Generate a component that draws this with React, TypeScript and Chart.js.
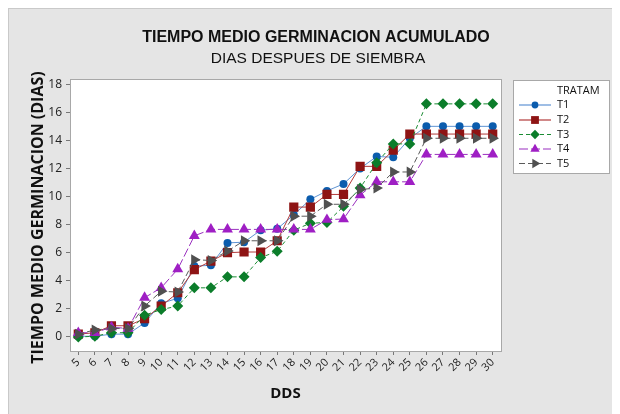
import React, { useEffect, useRef } from "react";
import { Chart, registerables } from "chart.js";

Chart.register(...registerables);

const days = ["5","6","7","8","9","10","11","12","13","14","15","16","17","18","19","20","21","22","23","24","25","26","27","28","29","30"];

const t1 = [0.05,0.05,0.2,0.2,1.0,2.4,2.75,5.05,5.1,6.7,6.75,7.6,7.7,8.7,9.8,10.4,10.9,12.0,12.85,12.8,14.15,15.0,15.0,15.0,15.0,15.0];
const t2 = [0.2,0.3,0.8,0.8,1.3,2.2,3.15,4.8,5.4,6.0,6.05,6.05,6.85,9.25,9.25,10.15,10.15,12.15,12.15,13.3,14.45,14.45,14.45,14.45,14.45,14.45];
const t3 = [0.0,0.05,0.3,0.3,1.55,1.95,2.2,3.5,3.5,4.28,4.28,5.65,6.1,7.6,8.1,8.15,9.3,10.6,12.4,13.75,13.75,16.6,16.6,16.6,16.6,16.6];
const t4 = [0.3,0.3,0.7,0.6,2.8,3.5,4.83,7.2,7.66,7.66,7.66,7.66,7.66,7.66,7.66,8.35,8.4,10.1,11.05,11.05,11.05,13.0,13.0,13.0,13.0,13.0];
const t5 = [0.2,0.5,0.6,0.6,2.2,3.25,3.2,5.5,5.45,6.12,6.85,6.85,6.85,8.6,8.6,9.45,9.45,10.5,10.6,11.75,11.75,14.15,14.15,14.15,14.15,14.15];

const yTicks = [0,2,4,6,8,10,12,14,16,18];

const seriesNames = ["T1","T2","T3","T4","T5"];
const lineColors = ["#5e93d3","#b23a3a","#1a8c33","#9a2fbf","#5a5a5a"];
const markColors = ["#0b5cad","#8e1414","#0b7d2a","#9f1fc4","#505050"];
const dashes = [[], [], [4,3], [9,3], [6,3]];
const pStyles = ["circle","rect","rectRot","triangle","triangle"];
const pRot = [0,0,0,0,90];
const pRad = [4,6.5,5.5,6.3,6.3];

const TITLE_FONT = "'Liberation Sans', Arial, sans-serif";
const UI_FONT = "'Open Sans', 'DejaVu Sans', sans-serif";

function drawMarker(ctx: any, style: string, rot: number, r: number, x: number, y: number, color: string) {
  ctx.save();
  ctx.fillStyle = color;
  ctx.translate(x, y);
  ctx.rotate((rot * Math.PI) / 180);
  ctx.beginPath();
  if (style === "circle") {
    ctx.arc(0, 0, r, 0, Math.PI * 2);
  } else if (style === "rect") {
    const s = r * Math.SQRT1_2;
    ctx.rect(-s, -s, 2 * s, 2 * s);
  } else if (style === "rectRot") {
    ctx.moveTo(0, -r);
    ctx.lineTo(r, 0);
    ctx.lineTo(0, r);
    ctx.lineTo(-r, 0);
    ctx.closePath();
  } else {
    ctx.moveTo(0, -r);
    ctx.lineTo(r * 0.866, r * 0.5);
    ctx.lineTo(-r * 0.866, r * 0.5);
    ctx.closePath();
  }
  ctx.fill();
  ctx.restore();
}

const decor = {
  id: "decor",
  beforeDraw(chart: any) {
    const { ctx, width, height, chartArea } = chart;
    ctx.save();
    ctx.fillStyle = "#e5e5e5";
    ctx.fillRect(0, 0, width, height);
    ctx.strokeStyle = "#c9c9c9";
    ctx.lineWidth = 1;
    ctx.strokeRect(0.5, 0.5, width - 1, height + 5);
    ctx.fillStyle = "#ffffff";
    ctx.fillRect(chartArea.left, chartArea.top, chartArea.right - chartArea.left, chartArea.bottom - chartArea.top);
    ctx.restore();
  },
  afterDraw(chart: any) {
    const { ctx, chartArea } = chart;
    ctx.save();
    ctx.strokeStyle = "#a8a8a8";
    ctx.lineWidth = 1;
    ctx.strokeRect(Math.round(chartArea.left) + 0.5, Math.round(chartArea.top) - 0.5, Math.round(chartArea.right - chartArea.left), Math.round(chartArea.bottom - chartArea.top) + 1);
    ctx.fillStyle = "#111";
    ctx.textAlign = "center";
    ctx.textBaseline = "middle";
    ctx.font = `bold 16px ${TITLE_FONT}`;
    ctx.fillText("TIEMPO MEDIO GERMINACION ACUMULADO", 308, 30);
    ctx.font = `15.5px ${TITLE_FONT}`;
    ctx.fillText("DIAS DESPUES DE SIEMBRA", 310, 51);
    ctx.font = `bold 15px ${UI_FONT}`;
    ctx.fillText("DDS", (chartArea.left + chartArea.right) / 2, 386);
    ctx.save();
    ctx.translate(30, (chartArea.top + chartArea.bottom) / 2 + 2);
    ctx.rotate(-Math.PI / 2);
    ctx.font = `bold 16px ${UI_FONT}`;
    ctx.fillText("TIEMPO MEDIO GERMINACION (DIAS)", 0, 0);
    ctx.restore();
    const lx = 505, ly = 72, lw = 96, lh = 93;
    ctx.fillStyle = "#ffffff";
    ctx.fillRect(lx, ly, lw, lh);
    ctx.strokeStyle = "#a8a8a8";
    ctx.strokeRect(lx + 0.5, ly + 0.5, lw, lh);
    ctx.fillStyle = "#111";
    ctx.textAlign = "left";
    ctx.font = `11px ${UI_FONT}`;
    ctx.fillText("TRATAM", 549, 83);
    const rows = [97, 112, 126.5, 141, 155.5];
    for (let i = 0; i < 5; i++) {
      const y = rows[i];
      ctx.save();
      ctx.strokeStyle = lineColors[i];
      ctx.lineWidth = 1.2;
      ctx.setLineDash(dashes[i]);
      ctx.beginPath();
      ctx.moveTo(511, y);
      ctx.lineTo(543, y);
      ctx.stroke();
      ctx.restore();
      drawMarker(ctx, pStyles[i], pRot[i], pRad[i] * 0.85, 527, y, markColors[i]);
      ctx.fillStyle = "#111";
      ctx.fillText(seriesNames[i], 549, y);
    }
    ctx.restore();
  },
};

export default function App() {
  const ref = useRef<HTMLCanvasElement | null>(null);
  useEffect(() => {
    if (!ref.current) return;
    const all = [t1, t2, t3, t4, t5];
    const chart = new Chart(ref.current, {
      type: "line",
      data: {
        labels: days,
        datasets: all.map((d, i) => ({
          label: seriesNames[i],
          data: d,
          order: 5 - i,
          borderColor: lineColors[i],
          borderWidth: 1,
          borderDash: dashes[i],
          backgroundColor: markColors[i],
          pointBackgroundColor: markColors[i],
          pointBorderColor: markColors[i],
          pointBorderWidth: 0,
          pointStyle: pStyles[i] as any,
          pointRotation: pRot[i],
          pointRadius: pRad[i],
          fill: false,
          tension: 0,
        })),
      },
      options: {
        responsive: false,
        animation: false,
        layout: { padding: { left: 0, top: 72, right: 119, bottom: 0 } },
        plugins: {
          legend: { display: false },
          title: { display: false },
          tooltip: { enabled: false },
        },
        scales: {
          x: {
            type: "category",
            offset: true,
            grid: { display: true, drawOnChartArea: false, drawTicks: true, tickLength: 4, color: "#777", offset: false },
            border: { display: false },
            ticks: {
              autoSkip: false,
              minRotation: 45,
              maxRotation: 45,
              padding: 1,
              color: "#222",
              font: { family: UI_FONT, size: 11 },
            },
            afterFit: (s: any) => { s.height = 63; },
          },
          y: {
            min: -1,
            max: 18.3,
            afterBuildTicks: (s: any) => { s.ticks = yTicks.map((v) => ({ value: v })); },
            grid: { display: true, drawOnChartArea: false, drawTicks: true, tickLength: 4, color: "#777" },
            border: { display: false },
            ticks: {
              padding: 4,
              color: "#222",
              font: { family: UI_FONT, size: 12 },
            },
            afterFit: (s: any) => { s.width = 62; },
          },
        },
      },
      plugins: [decor],
    });
    return () => chart.destroy();
  }, []);
  return <canvas ref={ref} width={612} height={406} style={{ display: "block" }} />;
}
